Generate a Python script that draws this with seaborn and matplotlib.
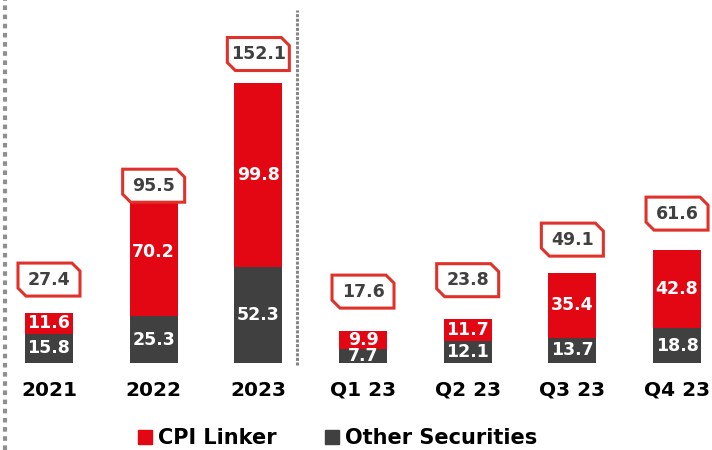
import matplotlib
matplotlib.use("Agg")
import matplotlib.pyplot as plt
import seaborn as sns
from matplotlib.lines import Line2D
from matplotlib.path import Path

# chart data
categories = ["2021", "2022", "2023", "Q1 23", "Q2 23", "Q3 23", "Q4 23"]
cpi_linker = [11.6, 70.2, 99.8, 9.9, 11.7, 35.4, 42.8]
other_securities = [15.8, 25.3, 52.3, 7.7, 12.1, 13.7, 18.8]
totals = [27.4, 95.5, 152.1, 17.6, 23.8, 49.1, 61.6]

# distance (pixels) from bar top to the centre of the total box
box_gap = [33, 1.5, 29, 39, 39, 33, 36]

RED = "#e30613"
GREY = "#404040"
BOX_EDGE = "#e0322a"


def chamfer_box(x0, y0, width, height, mutation_size):
    """Fixed size box with clipped top-right and bottom-left corners."""
    cx = x0 + width / 2
    cy = y0 + height / 2
    s = mutation_size / (12.5 * 100 / 72)
    hw, hh, c = 31 * s, 16.5 * s, 8 * s
    verts = [
        (cx - hw, cy - hh + c),
        (cx - hw + c, cy - hh),
        (cx + hw, cy - hh),
        (cx + hw, cy + hh - c),
        (cx + hw - c, cy + hh),
        (cx - hw, cy + hh),
        (cx - hw, cy - hh + c),
    ]
    return Path(verts, closed=True)


def plot_chart():
    sns.set_style("white")
    plt.rcParams["font.family"] = ["DejaVu Sans"]

    fig = plt.figure(figsize=(7.12, 4.5), dpi=100)
    ax = fig.add_axes([0, 0, 1, 1])

    # stacked bars: red total first, grey part drawn over it
    sns.barplot(x=categories, y=totals, color=RED, saturation=1,
                width=0.4586, linewidth=0, ax=ax)
    sns.barplot(x=categories, y=other_securities, color=GREY, saturation=1,
                width=0.4586, linewidth=0, ax=ax)

    ax.set_xlim(-0.468, 6.334)
    ax.set_ylim(-47.26, 197.2)
    ax.set_axis_off()

    for i, cat in enumerate(categories):
        # segment labels
        ax.text(i, other_securities[i] / 2, f"{other_securities[i]:.1f}",
                ha="center", va="center", color="white",
                fontsize=12.5, fontweight="bold")
        ax.text(i, other_securities[i] + cpi_linker[i] / 2, f"{cpi_linker[i]:.1f}",
                ha="center", va="center", color="white",
                fontsize=12.5, fontweight="bold")
        # total box
        ax.annotate(f"{totals[i]:.1f}", xy=(i, totals[i]), xytext=(0, box_gap[i]),
                    textcoords="offset pixels", ha="center", va="center",
                    color=GREY, fontsize=12.5, fontweight="bold", zorder=5,
                    bbox=dict(boxstyle=chamfer_box, fc="white", ec=BOX_EDGE, lw=2.2))
        # category label
        ax.annotate(cat, xy=(i, 0), xytext=(0, -27), textcoords="offset pixels",
                    ha="center", va="center", color="black",
                    fontsize=14.5, fontweight="bold")

    # separators
    ax.axvline(2.369, ymin=85 / 450, ymax=440 / 450, color="#858585",
               lw=2.2, linestyle=(0, (1, 0.5)), dash_capstyle="butt")
    fig.add_artist(Line2D([5 / 712, 5 / 712], [0, 1], transform=fig.transFigure,
                          color="#8f8f8f", lw=3, linestyle=(0, (1.1, 1.1)),
                          dash_capstyle="butt"))

    # legend
    handles = [
        Line2D([], [], marker="s", color=RED, linestyle="none", markersize=9.4),
        Line2D([], [], marker="s", color=GREY, linestyle="none", markersize=9.4),
    ]
    fig.legend(handles, ["CPI Linker", "Other Securities"], loc="center",
               bbox_to_anchor=(0.474, 0.026), ncol=2, frameon=False,
               prop={"size": 15, "weight": "bold"}, labelcolor="black",
               handlelength=0.7, handletextpad=0.3, columnspacing=2.3,
               borderpad=0)

    fig.savefig("out.png", dpi=100)


if __name__ == "__main__":
    plot_chart()
